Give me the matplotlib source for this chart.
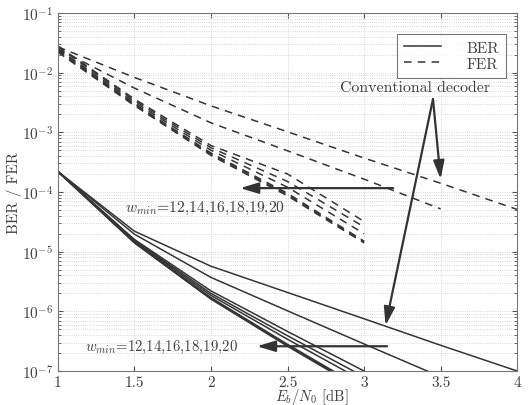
import matplotlib
matplotlib.use("Agg")
import matplotlib.pyplot as plt
from matplotlib.lines import Line2D
from matplotlib.ticker import NullFormatter

plt.rcParams['font.family'] = ['cmr10', 'DejaVu Serif']
plt.rcParams['mathtext.fontset'] = 'cm'
plt.rcParams['axes.formatter.use_mathtext'] = True
plt.rcParams['font.size'] = 11

# ---------------- data ----------------
ebn0_conv_a = [1, 1.5, 2, 2.5, 3, 3.5, 4]
ebn0_conv_b = [1, 1.5, 2, 2.5, 3, 3.5]
ebn0_new = [1, 1.5, 2, 2.5, 3]

ber_conv_a = [2.2e-4, 2.2e-5, 5.7e-6, 2.07e-6, 7.5e-7, 2.7e-7, 1.0e-7]
ber_conv_b = [2.2e-4, 1.96e-5, 3.7e-6, 1.02e-6, 2.84e-7, 8.0e-8]
fer_conv_a = [0.027, 8.3e-3, 2.77e-3, 1.02e-3, 3.7e-4, 1.4e-4, 5.1e-5]
fer_conv_b = [0.025, 5.5e-3, 1.44e-3, 4.9e-4, 1.64e-4, 5.2e-5]

wmin_labels = ['12', '14', '16', '18', '19', '20']
ber_new = [
    [2.2e-4, 1.60e-5, 2.2e-6, 4.6e-7, 1.0e-7],
    [2.2e-4, 1.55e-5, 2.0e-6, 3.9e-7, 8.0e-8],
    [2.2e-4, 1.50e-5, 1.85e-6, 3.4e-7, 6.7e-8],
    [2.2e-4, 1.45e-5, 1.7e-6, 2.8e-7, 5.0e-8],
    [2.2e-4, 1.42e-5, 1.65e-6, 2.7e-7, 4.8e-8],
    [2.2e-4, 1.40e-5, 1.6e-6, 2.6e-7, 4.6e-8],
]
fer_new = [
    [0.028, 3.6e-3, 6.0e-4, 2.0e-4, 3.2e-5],
    [0.027, 3.4e-3, 5.5e-4, 1.5e-4, 2.6e-5],
    [0.025, 3.2e-3, 5.0e-4, 1.2e-4, 2.0e-5],
    [0.024, 3.0e-3, 4.5e-4, 9.5e-5, 1.5e-5],
    [0.023, 2.9e-3, 4.3e-4, 9.0e-5, 1.45e-5],
    [0.022, 2.8e-3, 4.1e-4, 8.6e-5, 1.4e-5],
]

xticks = [1, 1.5, 2, 2.5, 3, 3.5, 4]
xtick_labels = ['1', '1.5', '2', '2.5', '3', '3.5', '4']
wmin_text = r'$w_{min}$=' + ','.join(wmin_labels)

# ---------------- plot ----------------
lc = '#353535'
tc = '#404040'
fig = plt.figure(figsize=(5.31, 4.06), dpi=100)
ax = fig.add_axes([0.109, 0.0837, 0.865, 0.882])
ax.set_yscale('log')

dash = (0, (5, 4))
ax.plot(ebn0_conv_a, ber_conv_a, color=lc, lw=1.1)
ax.plot(ebn0_conv_b, ber_conv_b, color=lc, lw=1.1)
ax.plot(ebn0_conv_a, fer_conv_a, color=lc, lw=1.1, ls=dash)
ax.plot(ebn0_conv_b, fer_conv_b, color=lc, lw=1.1, ls=dash)
for b in ber_new:
    ax.plot(ebn0_new, b, color=lc, lw=1.1)
for f in fer_new:
    ax.plot(ebn0_new, f, color=lc, lw=1.1, ls=dash)

ax.set_xlim(1, 4)
ax.set_ylim(1e-7, 1e-1)
ax.set_xticks(xticks)
ax.set_xticklabels(xtick_labels)
ax.yaxis.set_minor_formatter(NullFormatter())
ax.grid(True, which='both', ls=':', color='#cdcdcd', lw=0.6)
ax.tick_params(which='both', direction='in', top=True, right=True, colors='#555555',
               labelcolor=tc)
ax.tick_params(axis='x', pad=3)
for s in ax.spines.values():
    s.set_color('#777777')
    s.set_linewidth(0.8)

ax.set_xlabel(r'$E_b/N_0$ [dB]', color=tc, fontsize=10.6)
ax.xaxis.set_label_coords(0.553, -0.043)
ax.set_ylabel('BER / FER', color=tc)
ax.yaxis.set_label_coords(-0.078, 0.5)

# legend
h = [Line2D([], [], color=lc, lw=1.1), Line2D([], [], color=lc, lw=1.1, ls=dash)]
leg = ax.legend(h, ['BER', 'FER'], loc='upper right', bbox_to_anchor=(0.993, 0.962),
                frameon=True, fancybox=False, edgecolor='#555555', handlelength=2.4,
                handletextpad=1.7, borderpad=0.45, labelspacing=0.15)
leg.get_frame().set_linewidth(0.8)
for t in leg.get_texts():
    t.set_color(tc)

# annotations
arrow_kw = dict(arrowstyle='-|>,head_length=1.0,head_width=0.3', color='#333333', lw=1.6,
                shrinkA=0, shrinkB=0)
ax.text(3.335, 5.8e-3, 'Conventional decoder', ha='center', va='center', color=tc,
        fontsize=11.4)
ax.annotate('', xy=(3.50, 1.64e-4), xytext=(3.45, 3.6e-3), arrowprops=arrow_kw)
ax.annotate('', xy=(3.14, 5.8e-7), xytext=(3.45, 3.6e-3), arrowprops=arrow_kw)
ax.annotate('', xy=(2.19, 1.16e-4), xytext=(3.19, 1.16e-4), arrowprops=arrow_kw)
ax.annotate('', xy=(2.30, 2.6e-7), xytext=(3.15, 2.6e-7), arrowprops=arrow_kw)
ax.text(1.44, 5.6e-5, wmin_text, ha='left', va='center', color=tc, fontsize=11.2)
ax.text(1.18, 2.6e-7, wmin_text, ha='left', va='center', color=tc, fontsize=10.7)

fig.savefig('out.png', dpi=100, facecolor='white')
